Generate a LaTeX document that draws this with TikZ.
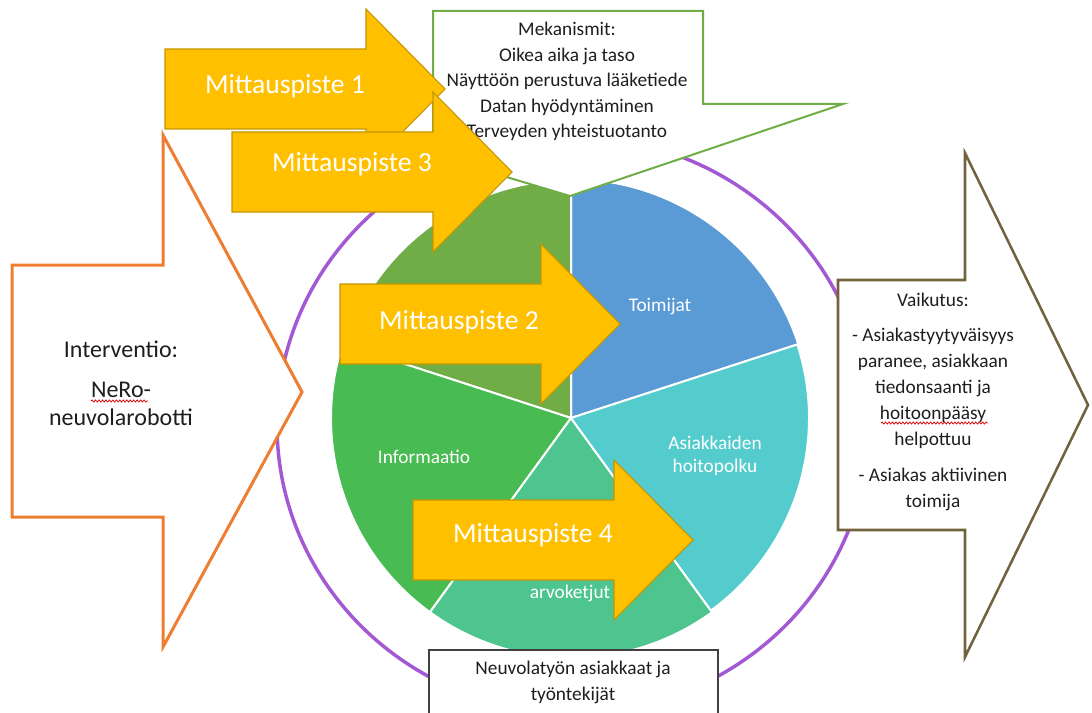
\documentclass[tikz,border=0pt]{standalone}
\usepackage{fontspec}
\setmainfont{Carlito}
\usetikzlibrary{decorations.pathmorphing}

\definecolor{ringpurple}{RGB}{163,88,212}
\definecolor{olivegreen}{RGB}{112,173,71}
\definecolor{sliceblue}{RGB}{91,155,213}
\definecolor{sliceteal}{RGB}{84,203,205}
\definecolor{slicemint}{RGB}{78,197,142}
\definecolor{slicegreen}{RGB}{72,187,82}
\definecolor{markyellow}{RGB}{255,192,0}
\definecolor{markedge}{RGB}{196,150,0}
\definecolor{inputorange}{RGB}{237,125,49}
\definecolor{outputbrown}{RGB}{115,98,62}
\definecolor{inkgray}{RGB}{30,30,30}

\tikzset{
  ring/.style={draw=ringpurple, line width=2.6pt},
  slice/.style={draw=white, line width=1.5pt},
  slicelabel/.style={text=white, anchor=base, inner sep=0pt, font=\fontsize{14.5}{17}\selectfont},
  textline/.style={text=inkgray, anchor=base, inner sep=0pt, font=\fontsize{14.5}{17}\selectfont},
  bigline/.style={text=inkgray, anchor=base, inner sep=0pt, font=\fontsize{18}{21}\selectfont},
  marklabel/.style={text=white, anchor=base, inner sep=0pt, font=\fontsize{20.7}{24}\selectfont},
  markfill/.style={fill=markyellow, draw=markedge, line width=0.8pt, line join=miter},
  spellmark/.style={draw=red!85!black, line width=0.55pt, decorate,
    decoration={snake, amplitude=0.8pt, segment length=2.6pt}},
  pics/measurearrow/.style={code={
    \path[markfill] (0,40) -- (201,40) -- (201,80) -- (280,0) -- (201,-80)
      -- (201,-40) -- (0,-40) -- cycle;
  }},
}

\begin{document}
\begin{tikzpicture}[x=0.75pt,y=0.75pt]
\useasboundingbox (0,0) rectangle (1092,-713);
\clip (0,0) rectangle (1092,-713);

% outer ring
\draw[ring] (573,-425) ellipse [x radius=296, y radius=288];

% five-part wheel
\coordinate (pc) at (571,-418);
\filldraw[slice, fill=sliceblue]  (pc) -- ++(18:239)  arc[start angle=18,  end angle=90,  radius=239] -- cycle;
\filldraw[slice, fill=olivegreen] (pc) -- ++(90:238)  arc[start angle=90,  end angle=162, radius=238] -- cycle;
\filldraw[slice, fill=slicegreen] (pc) -- ++(162:240) arc[start angle=162, end angle=234, radius=240] -- cycle;
\filldraw[slice, fill=slicemint]  (pc) -- ++(234:240) arc[start angle=234, end angle=306, radius=240] -- cycle;
\filldraw[slice, fill=sliceteal]  (pc) -- ++(306:238) arc[start angle=306, end angle=378, radius=238] -- cycle;

\node[slicelabel] (toimijat) at (660,-311) {Toimijat};
\node[slicelabel] (polku1) at (715,-449) {Asiakkaiden};
\node[slicelabel] (polku2) at (715,-472) {hoitopolku};
\node[slicelabel] (info) at (424,-463) {Informaatio};
\node[slicelabel] (arvo) at (570,-598) {arvoketjut};

% mechanisms callout
\filldraw[fill=white, draw=olivegreen, line width=1.5pt, line join=miter]
  (433,-11) -- (703,-11) -- (703,-104) -- (843,-104) -- (570,-196) -- (433,-155) -- cycle;
\node[textline] (mek0) at (567,-36) {Mekanismit:};
\node[textline] (mek1) at (567,-61.5) {Oikea aika ja taso};
\node[textline] (mek2) at (567,-87) {Näyttöön perustuva lääketiede};
\node[textline] (mek3) at (567,-112.5) {Datan hyödyntäminen};
\node[textline] (mek4) at (567,-138) {Terveyden yhteistuotanto};

% target group box
\filldraw[fill=white, draw=black!75, line width=1pt] (429,-650) rectangle (718,-730);
\node[textline] (kohde1) at (573,-674) {Neuvolatyön asiakkaat ja};
\node[textline] (kohde2) at (573,-700) {työntekijät};

% intervention arrow
\filldraw[fill=white, draw=inputorange, line width=2.25pt, line join=miter]
  (12,-265) -- (163,-265) -- (163,-135) -- (302,-392) -- (163,-647) -- (163,-517) -- (12,-517) -- cycle;
\node[bigline] (int0) at (121,-357) {Interventio:};
\node[bigline] (int1) at (121,-397) {NeRo-};
\node[bigline] (int2) at (121,-425) {neuvolarobotti};
\draw[spellmark] (91,-401) -- (148,-401);

% impact arrow
\filldraw[fill=white, draw=outputbrown, line width=1.9pt, line join=miter]
  (838,-280) -- (965,-280) -- (965,-153) -- (1088,-405) -- (965,-657) -- (965,-530) -- (838,-530) -- cycle;
\node[textline] (vai0) at (933,-306) {Vaikutus:};
\node[textline] (vai1) at (933,-341) {- Asiakastyytyväisyys};
\node[textline] (vai2) at (933,-367) {paranee, asiakkaan};
\node[textline] (vai3) at (933,-393) {tiedonsaanti ja};
\node[textline] (vai4) at (933,-419) {hoitoonpääsy};
\node[textline] (vai5) at (933,-445) {helpottuu};
\node[textline] (vai6) at (933,-481) {- Asiakas aktiivinen};
\node[textline] (vai7) at (933,-507) {toimija};
\draw[spellmark] (881,-423) -- (988,-423);

% measurement points
\pic (mp1) at (165,-89) {measurearrow};
\node[marklabel] (mp1label) at (285,-94) {Mittauspiste 1};
\pic (mp3) at (232,-172) {measurearrow};
\node[marklabel] (mp3label) at (352,-172) {Mittauspiste 3};
\pic (mp2) at (340,-324) {measurearrow};
\node[marklabel] (mp2label) at (459,-329) {Mittauspiste 2};
\pic (mp4) at (413,-540) {measurearrow};
\node[marklabel] (mp4label) at (533,-542) {Mittauspiste 4};
\end{tikzpicture}
\end{document}
